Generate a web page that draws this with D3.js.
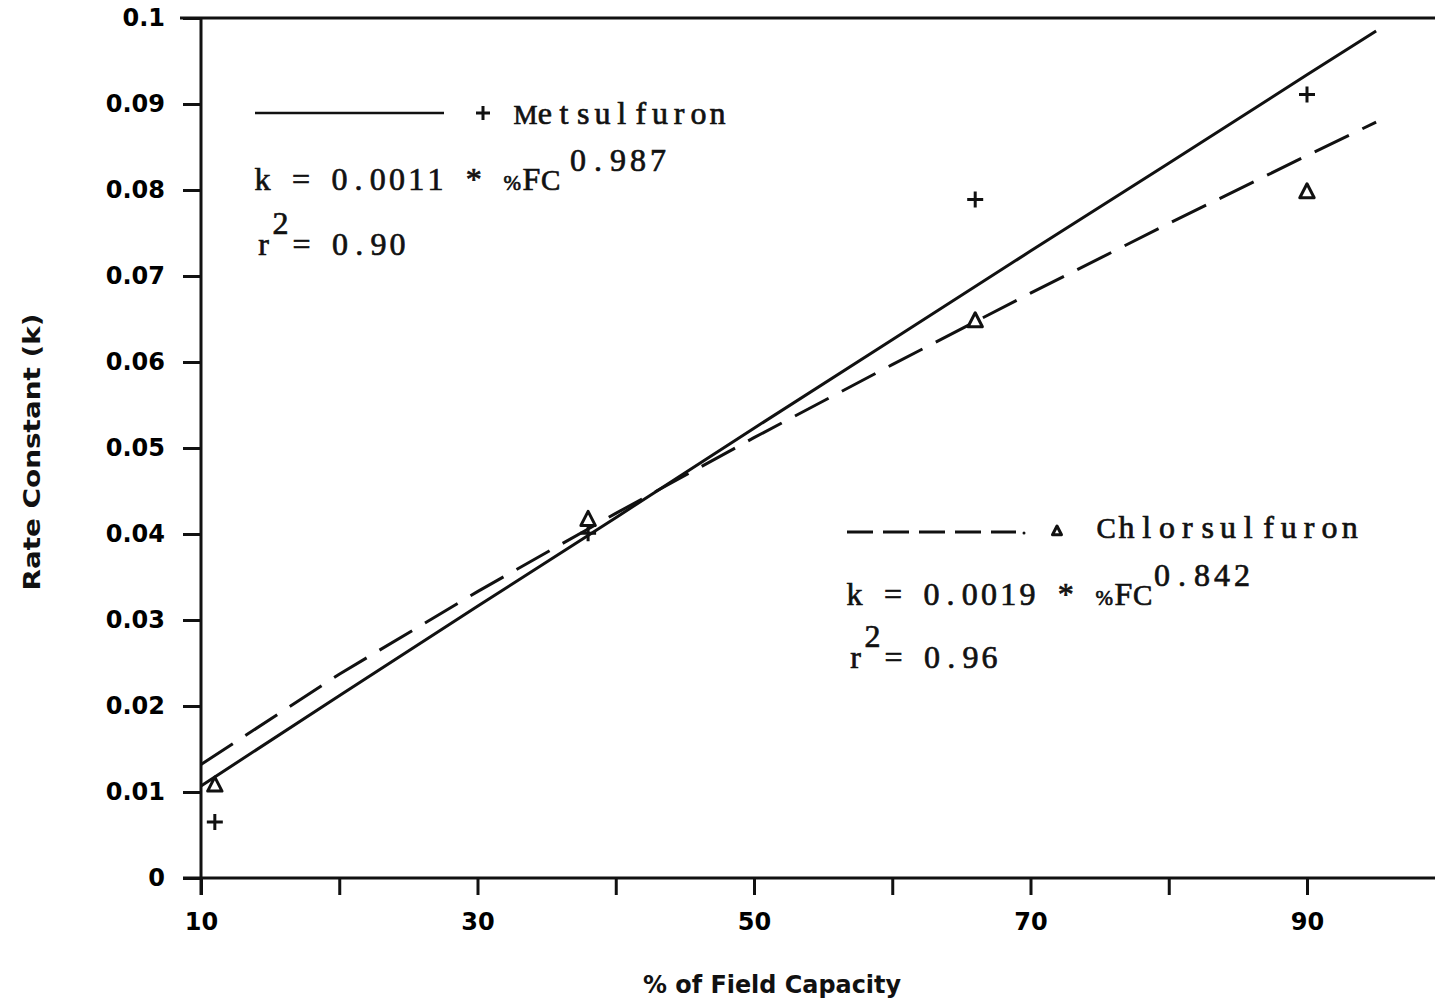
<!DOCTYPE html>
<html>
<head>
<meta charset="utf-8">
<script src="https://cdn.jsdelivr.net/npm/d3@7"></script>
<style>
  html, body { margin: 0; padding: 0; background: #fff; }
  svg { display: block; }
  .tick text { font-family: "DejaVu Sans", sans-serif; font-weight: bold; font-size: 24px; fill: #000; }
  .mono { font-family: "Liberation Serif", "DejaVu Serif", serif; font-size: 32px; fill: #111; stroke: #111; stroke-width: 0.7px; }
</style>
</head>
<body>
<svg id="chart" width="1435" height="1000"></svg>
<script>
// ---- data ----
const fieldCapacity = [11, 38, 66, 90];
const metsulfuronK = [0.0065, 0.0401, 0.0789, 0.0911];
const chlorsulfuronK = [0.0108, 0.0417, 0.0648, 0.0798];

const fitX = [10, 20, 30, 40, 50, 60, 70, 80, 90, 95];
const metsulfuronFit = [0.0107, 0.0212, 0.0316, 0.0419, 0.0523, 0.0626, 0.0729, 0.0831, 0.0934, 0.0985];
const chlorsulfuronFit = [0.0132, 0.0237, 0.0333, 0.0424, 0.0512, 0.0597, 0.0680, 0.0761, 0.0840, 0.0879];

const xTickValues = [10, 20, 30, 40, 50, 60, 70, 80, 90];
const xTickLabels = ["10", "", "30", "", "50", "", "70", "", "90"];
const yTickValues = [0, 0.01, 0.02, 0.03, 0.04, 0.05, 0.06, 0.07, 0.08, 0.09, 0.1];

const xTitle = "% of Field Capacity";
const yTitle = "Rate Constant (k)";

// ---- chart ----
const svg = d3.select("#chart");
svg.append("rect").attr("width", 1435).attr("height", 1000).attr("fill", "#fff");

const x = d3.scaleLinear().domain([10, 100]).range([201, 1445.25]);
const y = d3.scaleLinear().domain([0, 0.1]).range([878, 18]);

const ink = "#111";
const sw = 3;

// y axis
const yAxis = svg.append("g").attr("transform", "translate(201,0)")
  .call(d3.axisLeft(y).tickValues(yTickValues).tickSize(18).tickPadding(18)
    .tickFormat(d3.format(".2~f")));
yAxis.select(".domain").remove();
yAxis.selectAll(".tick line").attr("stroke", ink).attr("stroke-width", sw);

// x axis
const xAxis = svg.append("g").attr("transform", "translate(0,878)")
  .call(d3.axisBottom(x).tickValues(xTickValues).tickSize(17).tickPadding(18)
    .tickFormat((d, i) => xTickLabels[i]));
xAxis.select(".domain").remove();
xAxis.selectAll(".tick line").attr("stroke", ink).attr("stroke-width", sw);

// frame
svg.append("line").attr("x1", 201).attr("x2", 201).attr("y1", 17).attr("y2", 895)
  .attr("stroke", ink).attr("stroke-width", sw);
svg.append("line").attr("x1", 180).attr("x2", 1435).attr("y1", y(0.1)).attr("y2", y(0.1))
  .attr("stroke", ink).attr("stroke-width", sw);
svg.append("line").attr("x1", 183).attr("x2", 1435).attr("y1", y(0)).attr("y2", y(0))
  .attr("stroke", ink).attr("stroke-width", sw);

// fit lines
const line = d3.line().x((d, i) => x(fitX[i])).y(d => y(d));
svg.append("path").datum(metsulfuronFit).attr("d", line)
  .attr("fill", "none").attr("stroke", ink).attr("stroke-width", sw);
svg.append("path").datum(chlorsulfuronFit).attr("d", line)
  .attr("fill", "none").attr("stroke", ink).attr("stroke-width", sw)
  .attr("stroke-dasharray", "38,15");

// markers
function plus(g, cx, cy, s) {
  g.append("path").attr("d", `M${cx - s},${cy}H${cx + s}M${cx},${cy - s}V${cy + s}`)
    .attr("stroke", ink).attr("stroke-width", sw).attr("fill", "none");
}
function tri(g, cx, cy, s) {
  g.append("path").attr("d", `M${cx},${cy - s}L${cx + s * 0.9},${cy + s * 0.75}L${cx - s * 0.9},${cy + s * 0.75}Z`)
    .attr("stroke", ink).attr("stroke-width", sw).attr("fill", "none").attr("stroke-linejoin", "round");
}
const marks = svg.append("g");
fieldCapacity.forEach((fc, i) => plus(marks, x(fc), y(metsulfuronK[i]), 8));
fieldCapacity.forEach((fc, i) => tri(marks, x(fc), y(chlorsulfuronK[i]), 8));

// typewriter-style text: each character centred in a fixed-pitch cell;
// one <text> per line, segments = [[x0, baseline, string, pitch], ...]
const wideSize = { "M": 27, "m": 28, "%": 21, "C": 29, "w": 28 };
function typed(g, segments) {
  const t = g.append("text").attr("class", "mono").attr("text-anchor", "middle");
  segments.forEach(([x0, yb, str, pitch]) => {
    pitch = pitch || 19.2;
    [...str].forEach((ch, i) => {
      if (ch === " ") return;
      const s = t.append("tspan").attr("x", x0 + pitch * (i + 0.5)).attr("y", yb).text(ch);
      if (wideSize[ch]) s.attr("font-size", wideSize[ch]);
    });
  });
  return t;
}

// legend / annotations
const ann = svg.append("g");
ann.append("line").attr("x1", 255).attr("x2", 444).attr("y1", 113).attr("y2", 113)
  .attr("stroke", ink).attr("stroke-width", 2.5);
plus(ann, 483, 113, 7);
typed(ann, [[516, 124, "Metsulfuron"]]);
typed(ann, [[253, 190, "k = 0.0011 * %FC"], [568, 171, "0.987", 20]]);
typed(ann, [[254, 255, "r"], [271, 234, "2"], [292, 255, "= 0.90"]]);

ann.append("line").attr("x1", 847).attr("x2", 1016).attr("y1", 532).attr("y2", 532)
  .attr("stroke", ink).attr("stroke-width", 3).attr("stroke-dasharray", "26,10");
ann.append("circle").attr("cx", 1024).attr("cy", 533).attr("r", 1.5).attr("fill", ink);
tri(ann, 1057, 531, 5);
typed(ann, [[1096, 538, "Chlorsulfuron", 20.3]]);
typed(ann, [[845, 605, "k = 0.0019 * %FC"], [1152, 586, "0.842", 20]]);
typed(ann, [[846, 668, "r"], [863, 647, "2"], [884, 668, "= 0.96"]]);

// axis titles
svg.append("text").attr("x", 772).attr("y", 993).attr("text-anchor", "middle")
  .attr("font-family", "DejaVu Sans").attr("font-weight", "bold").attr("font-size", 24)
  .attr("textLength", 258).attr("lengthAdjust", "spacingAndGlyphs").attr("fill", ink)
  .text(xTitle);
svg.append("text").attr("transform", "translate(40,452) rotate(-90)").attr("text-anchor", "middle")
  .attr("font-family", "DejaVu Sans").attr("font-weight", "bold").attr("font-size", 23)
  .attr("textLength", 277).attr("lengthAdjust", "spacingAndGlyphs").attr("fill", ink)
  .text(yTitle);
</script>
</body>
</html>
